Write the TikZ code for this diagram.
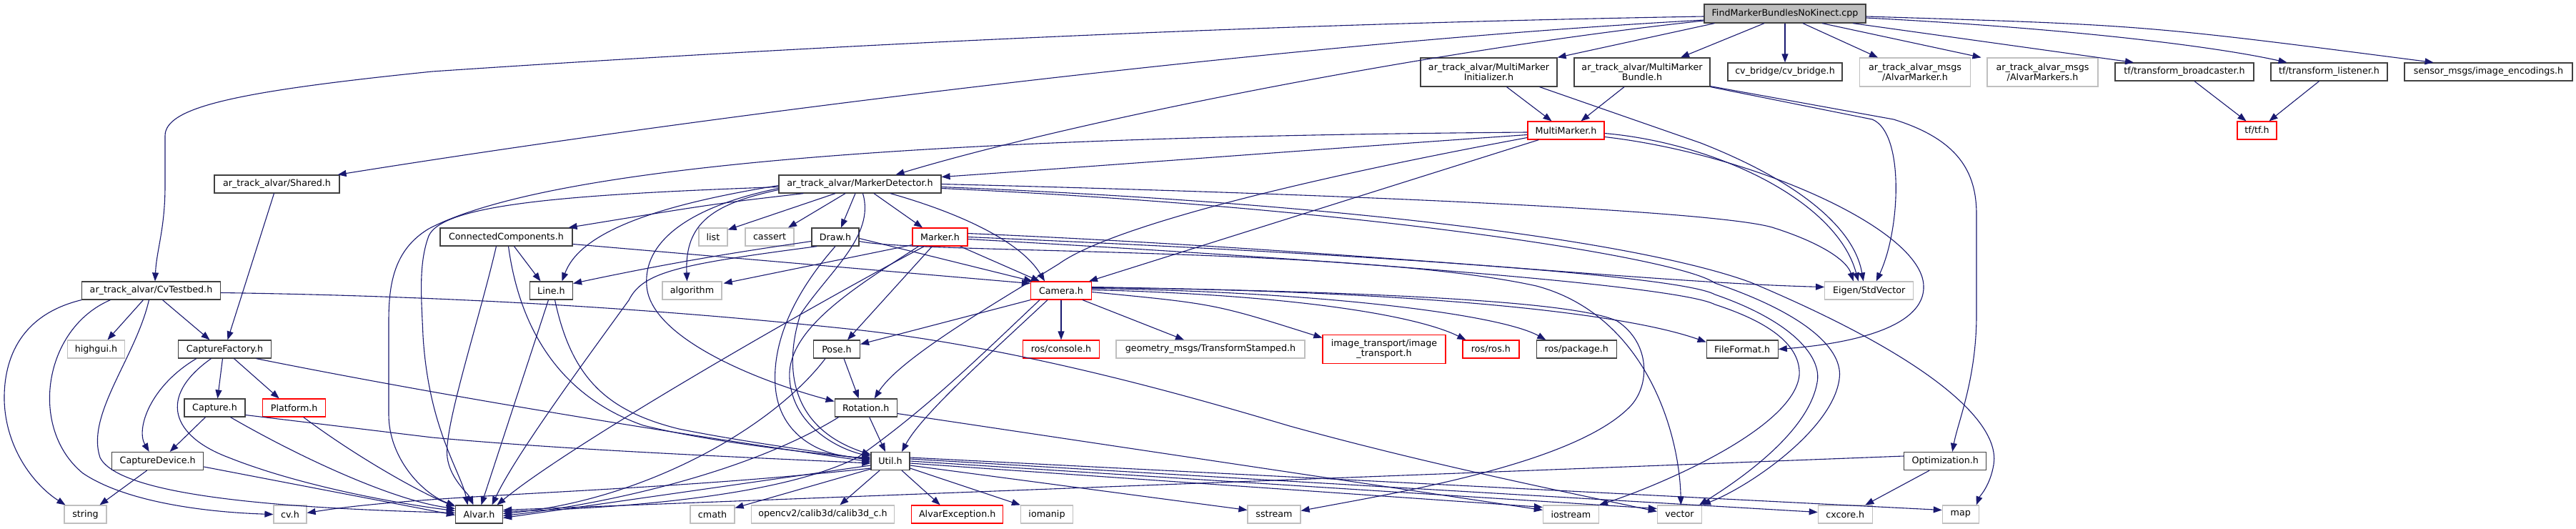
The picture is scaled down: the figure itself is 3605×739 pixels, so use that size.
\documentclass[tikz,border=0pt]{standalone}
\usepackage{fontspec}
\setmainfont{DejaVu Sans}
\usetikzlibrary{calc,arrows.meta}
\definecolor{edgec}{HTML}{191970}
\definecolor{boxc}{HTML}{404040}
\definecolor{grayc}{HTML}{BFBFBF}
\definecolor{redc}{HTML}{FF0000}
\definecolor{rootfill}{HTML}{BFBFBF}
\newcommand{\nodefont}{\fontsize{12.7pt}{14pt}\selectfont}
\tikzset{
  bx/.style={draw=boxc, fill=white, line width=1.2pt, minimum height=25pt, inner sep=0pt, font=\nodefont, align=center},
  gbx/.style={bx, draw=grayc},
  rbx/.style={bx, draw=redc},
  edg/.style={draw=edgec, line width=1.1pt, -{Triangle[length=12pt,width=9pt]}}
}
\begin{document}
\begin{tikzpicture}[x=1pt,y=-1pt]
\fill[white] (0,0) rectangle (3605,739);
\useasboundingbox (0,0) rectangle (3605,739);
% ---------------- nodes ----------------
\node[bx, fill=rootfill, minimum width=226pt, minimum height=26pt] (root) at (2498,19) {FindMarkerBundlesNoKinect.cpp};
\node[bx, minimum width=194pt] (CvT) at (211.5,406.5) {ar\_track\_alvar/CvTestbed.h};
\node[bx, minimum width=175pt] (Shared) at (387.5,257.5) {ar\_track\_alvar/Shared.h};
\node[bx, minimum width=227pt] (MD) at (1203.5,257.5) {ar\_track\_alvar/MarkerDetector.h};
\node[bx, minimum width=191pt, minimum height=40pt] (MMI) at (2083.5,101) {ar\_track\_alvar/MultiMarker\\Initializer.h};
\node[bx, minimum width=190pt, minimum height=40pt] (MMB) at (2298,101) {ar\_track\_alvar/MultiMarker\\Bundle.h};
\node[bx, minimum width=160pt] (cvb) at (2498,100.5) {cv\_bridge/cv\_bridge.h};
\node[gbx, minimum width=155pt, minimum height=40pt] (AM) at (2680,101) {ar\_track\_alvar\_msgs\\/AlvarMarker.h};
\node[gbx, minimum width=155pt, minimum height=40pt] (AMs) at (2858.5,101) {ar\_track\_alvar\_msgs\\/AlvarMarkers.h};
\node[bx, minimum width=194pt] (tfb) at (3057,100.5) {tf/transform\_broadcaster.h};
\node[bx, minimum width=163pt] (tfl) at (3259.5,100.5) {tf/transform\_listener.h};
\node[bx, minimum width=235pt] (sen) at (3482.5,100.5) {sensor\_msgs/image\_encodings.h};
\node[rbx, minimum width=107pt] (MM) at (2191.5,182.5) {MultiMarker.h};
\node[rbx, minimum width=55pt] (tf) at (3158.5,182.5) {tf/tf.h};
\node[bx, minimum width=185pt] (CC) at (708.5,331.5) {ConnectedComponents.h};
\node[gbx, minimum width=40pt] (list) at (998,331.5) {list};
\node[gbx, minimum width=68pt] (cassert) at (1077,331.5) {cassert};
\node[bx, minimum width=66pt] (Draw) at (1169,331.5) {Draw.h};
\node[rbx, minimum width=77pt] (Marker) at (1315.5,331.5) {Marker.h};
\node[bx, minimum width=60pt] (Line) at (771.5,406.5) {Line.h};
\node[gbx, minimum width=83pt] (algo) at (968.5,406.5) {algorithm};
\node[rbx, minimum width=85pt] (Camera) at (1485,406.5) {Camera.h};
\node[gbx, minimum width=124pt] (Eigen) at (2615.7,406.5) {Eigen/StdVector};
\node[gbx, minimum width=80pt] (highgui) at (134.5,488.5) {highgui.h};
\node[bx, minimum width=130pt] (CF) at (314.5,488.5) {CaptureFactory.h};
\node[bx, minimum width=65pt] (Pose) at (1171,488.5) {Pose.h};
\node[rbx, minimum width=107pt] (console) at (1485,488.5) {ros/console.h};
\node[gbx, minimum width=264pt] (geom) at (1694,488.5) {geometry\_msgs/TransformStamped.h};
\node[rbx, minimum width=172pt, minimum height=40pt] (imt) at (1937,488.5) {image\_transport/image\\\_transport.h};
\node[rbx, minimum width=79pt] (rosros) at (2086.4,488.5) {ros/ros.h};
\node[bx, minimum width=112pt] (package) at (2206.3,488.5) {ros/package.h};
\node[bx, minimum width=100pt] (FF) at (2438.2,488.5) {FileFormat.h};
\node[bx, minimum width=85pt] (Capture) at (300.5,570.5) {Capture.h};
\node[rbx, minimum width=88pt] (Platform) at (411.7,570.5) {Platform.h};
\node[bx, minimum width=87pt] (Rotation) at (1211.7,570.5) {Rotation.h};
\node[bx, minimum width=128pt] (CD) at (220.7,645) {CaptureDevice.h};
\node[bx, minimum width=54pt] (Util) at (1246,645) {Util.h};
\node[bx, minimum width=115pt] (Opt) at (2722.2,645) {Optimization.h};
\node[gbx, minimum width=59pt] (string) at (119.5,719.5) {string};
\node[gbx, minimum width=46pt] (cv) at (406,719.5) {cv.h};
\node[bx, minimum width=66pt] (Alvar) at (670.5,719.5) {Alvar.h};
\node[gbx, minimum width=62pt] (cmath) at (997,719.5) {cmath};
\node[gbx, minimum width=200pt] (calib) at (1151.4,719.5) {opencv2/calib3d/calib3d\_c.h};
\node[rbx, minimum width=128pt] (AE) at (1339.7,719.5) {AlvarException.h};
\node[gbx, minimum width=73pt] (iomanip) at (1465,719.5) {iomanip};
\node[gbx, minimum width=74pt] (sstream) at (1783,719.5) {sstream};
\node[gbx, minimum width=78pt] (iostream) at (2198.4,719.5) {iostream};
\node[gbx, minimum width=62pt] (vector) at (2350.4,719.5) {vector};
\node[gbx, minimum width=76pt] (cxcore) at (2582.3,719.5) {cxcore.h};
\node[gbx, minimum width=51pt] (map) at (2743.8,719.5) {map};
% ---------------- edges ----------------
% root
\draw[edg] ($(root.west)+(0,4)$) .. controls (1800,33) and (1200,60) .. (605,100) .. controls (330,128) and (231,150) .. (231,190) -- (231,260) .. controls (231,320) and (219,350) .. ($(CvT.north)+(5.5,0)$);
\draw[edg] ($(root.west)+(0,9)$) .. controls (1800,60) and (1000,160) .. ($(Shared.north east)+(-3,0)$);
\draw[edg] ($(root.west)+(0,10)$) .. controls (2000,70) and (1500,170) .. ($(MD.north)+(50,0)$);
\draw[edg] ($(root.south west)+(15,0)$) -- (MMI.north east);
\draw[edg] ($(root.south)+(-29,0)$) -- ($(MMB.north)+(54,0)$);
\draw[edg] (root.south) -- (cvb.north);
\draw[edg] ($(root.south)+(25,0)$) -- ($(AM.north)+(-52,0)$);
\draw[edg] ($(root.south)+(52,0)$) -- ($(AMs.north)+(-86,0)$);
\draw[edg] ($(root.south)+(95,0)$) -- ($(tfb.north)+(-71,0)$);
\draw[edg] ($(root.east)+(0,6)$) .. controls (2900,40) and (3100,65) .. ($(tfl.north)+(-59,0)$);
\draw[edg] ($(root.east)+(0,4)$) .. controls (3000,35) .. ($(sen.north)+(-77,0)$);
% multimarker initializer / bundle
\draw[edg] ($(MMI.south)+(25,0)$) -- ($(MM.north)+(-20,0)$);
\draw[edg] ($(MMB.south)+(-25,0)$) -- ($(MM.north)+(21,0)$);
\draw[edg] ($(MMI.south)+(71,0)$) -- (2380,200) .. controls (2520,255) and (2595,320) .. ($(Eigen.north)+(-8,0)$);
\draw[edg] (MMB.south east) -- (2620,167) .. controls (2665,185) and (2660,320) .. ($(Eigen.north)+(10,0)$);
\draw[edg] ($(MMB.south east)+(0,-1)$) -- (2650,167) .. controls (2740,195) and (2766,240) .. (2766,300) -- (2766,440) .. controls (2766,530) and (2740,590) .. ($(Opt.north)+(10,0)$);
% MultiMarker
\draw[edg] ($(MM.east)+(0,4)$) .. controls (2400,200) and (2570,280) .. ($(Eigen.north)+(-15,0)$);
\draw[edg] ($(MM.east)+(0,9)$) .. controls (2450,215) and (2690,320) .. (2692,400) .. controls (2694,455) and (2600,480) .. (FF.east);
\draw[edg] ($(MM.west)+(0,6)$) .. controls (1800,212) and (1500,235) .. ($(MD.east)+(0,-10)$);
\draw[edg] ($(MM.west)+(0,2.5)$) .. controls (1500,190) and (800,215) .. (600,320) .. controls (550,350) and (544,400) .. (544,450) -- (544,580) .. controls (544,640) and (590,690) .. ($(Alvar.west)+(0,-12)$);
\draw[edg] ($(MM.west)+(0,10)$) .. controls (1800,255) and (1550,320) .. (1482,369) .. controls (1400,420) and (1260,500) .. ($(Rotation.north)+(12,0)$);
\draw[edg] ($(MM.south west)+(16,0)$) -- ($(Camera.north)+(39,0)$);
% tf
\draw[edg] ($(tfb.south)+(14,0)$) -- ($(tf.north)+(-15,0)$);
\draw[edg] ($(tfl.south)+(-14,0)$) -- ($(tf.north)+(17,0)$);
% Shared
\draw[edg] ($(Shared.south)+(-4,0)$) -- ($(CF.north)+(4,0)$);
% MarkerDetector
\draw[edg] ($(MD.south west)+(35,0)$) .. controls (1000,285) .. ($(CC.north east)+(-6,0)$);
\draw[edg] ($(MD.south)+(-34.5,0)$) -- ($(list.north east)+(0,3)$);
\draw[edg] ($(MD.south)+(-20.5,0)$) -- ($(cassert.north)+(26,0)$);
\draw[edg] ($(MD.south)+(-6.5,0)$) -- ($(Draw.north)+(8,0)$);
\draw[edg] ($(MD.south)+(19.5,0)$) -- ($(Marker.north)+(-24.5,0)$);
\draw[edg] ($(MD.south)+(42.5,0)$) .. controls (1350,300) and (1430,340) .. ($(Camera.north)+(-23,0)$);
\draw[edg] ($(MD.west)+(0,2)$) .. controls (900,290) and (810,330) .. ($(Line.north)+(15,0)$);
\draw[edg] ($(MD.west)+(0,4)$) .. controls (800,272) and (620,285) .. (600,330) .. controls (585,370) and (590,420) .. (592,470) .. controls (600,600) and (645,660) .. ($(Alvar.north)+(-16,0)$);
\draw[edg] ($(MD.west)+(0,6)$) .. controls (960,290) and (900,340) .. (905,400) .. controls (910,470) and (1050,530) .. ($(Rotation.west)+(0,-9)$);
\draw[edg] ($(MD.west)+(0,8)$) .. controls (1000,285) and (958,310) .. ($(algo.north)+(-7,0)$);
\draw[edg] ($(MD.south)+(4,0)$) .. controls (1225,330) and (1160,380) .. (1120,440) .. controls (1095,520) and (1110,600) .. ($(Util.west)+(0,-9)$);
\draw[edg] (MD.east) .. controls (1900,272) and (2400,295) .. (2480,318) .. controls (2550,340) and (2585,365) .. ($(Eigen.north)+(-22,0)$);
\draw[edg] ($(MD.east)+(0,4)$) .. controls (1900,285) and (2300,340) .. (2450,395) .. controls (2700,500) and (2800,590) .. (2790,650) .. controls (2785,680) and (2770,695) .. ($(map.north)+(22,0)$);
\draw[edg] ($(MD.east)+(0,6)$) .. controls (1900,290) and (2350,360) .. (2400,396) .. controls (2530,440) and (2580,490) .. (2574,530) .. controls (2565,600) and (2450,680) .. (vector.north east);
% Marker
\draw[edg] ($(Marker.east)+(0,-5)$) .. controls (1900,350) and (2300,395) .. ($(Eigen.west)+(0,-5)$);
\draw[edg] (Marker.east) .. controls (1900,355) and (2350,385) .. (2400,412) .. controls (2510,450) and (2550,500) .. (2543,535) .. controls (2530,610) and (2420,680) .. ($(vector.north east)+(-4,0)$);
\draw[edg] ($(Marker.east)+(0,3)$) .. controls (1900,365) and (2350,400) .. (2400,426) .. controls (2490,455) and (2520,490) .. (2518,525) .. controls (2510,600) and (2320,680) .. (iostream.north east);
\draw[edg] ($(Marker.south west)+(0,-2)$) -- ($(algo.north east)+(2,3)$);
\draw[edg] ($(Marker.south)+(-22,0)$) .. controls (1150,420) and (800,620) .. ($(Alvar.north)+(25,0)$);
\draw[edg] ($(Marker.south)+(-11,0)$) -- ($(Pose.north)+(15,0)$);
\draw[edg] ($(Marker.south)+(-30,0)$) .. controls (1200,400) and (1100,460) .. (1105,530) .. controls (1110,600) and (1180,630) .. ($(Util.west)+(0,-7)$);
\draw[edg] ($(Marker.south east)+(-11,0)$) -- ($(Camera.north)+(-30,0)$);
% Draw
\draw[edg] ($(Draw.west)+(0,6)$) .. controls (1050,350) and (950,365) .. ($(Line.east)+(0,-10)$);
\draw[edg] ($(Draw.south west)+(8,0)$) .. controls (950,370) and (900,380) .. (880,420) .. controls (800,530) and (720,640) .. ($(Alvar.north)+(18,0)$);
\draw[edg] (Draw.south) .. controls (1120,400) and (1080,470) .. (1085,540) .. controls (1090,610) and (1150,640) .. ($(Util.west)+(0,-5)$);
\draw[edg] ($(Draw.east)+(0,2)$) -- ($(Camera.north west)+(3,0)$);
\draw[edg] ($(Draw.east)+(0,6)$) .. controls (1280,355) and (1900,345) .. (2150,400) .. controls (2300,440) and (2350,600) .. ($(vector.north)+(2,0)$);
% Camera
\draw[edg] (Camera.south) -- (console.north);
\draw[edg] ($(Camera.south)+(30,0)$) -- ($(geom.north)+(-37,0)$);
\draw[edg] ($(Camera.east)+(0,2)$) .. controls (1700,425) .. ($(imt.west)+(0,-16)$);
\draw[edg] ($(Camera.east)+(0,-1)$) .. controls (1800,412) and (1980,440) .. ($(rosros.north)+(-35,0)$);
\draw[edg] ($(Camera.east)+(0,-3)$) .. controls (1850,408) and (2100,440) .. ($(package.north)+(-43,0)$);
\draw[edg] ($(Camera.east)+(0,-4)$) .. controls (1900,405) and (2250,430) .. ($(FF.west)+(0,-10)$);
\draw[edg] ($(Camera.east)+(0,-5)$) .. controls (1900,408) and (2200,420) .. (2263,449) .. controls (2310,480) and (2310,540) .. (2280,570) .. controls (2200,650) and (1950,690) .. ($(sstream.east)+(0,-5)$);
\draw[edg] (Camera.south west) -- ($(Pose.east)+(0,-7)$);
\draw[edg] ($(Camera.south)+(-19,0)$) .. controls (1380,500) and (1290,580) .. ($(Util.north)+(16,0)$);
\draw[edg] ($(Camera.south)+(-30,0)$) .. controls (1380,490) and (1300,570) .. (1200,640) .. controls (1100,690) and (900,710) .. ($(Alvar.east)+(0,-4)$);
% ConnectedComponents
\draw[edg] ($(CC.south)+(11,0)$) -- ($(Line.north)+(-15,0)$);
\draw[edg] ($(CC.south)+(-14,0)$) .. controls (670,450) and (620,600) .. (626,640) .. controls (630,670) and (655,690) .. ($(Alvar.north)+(-8,0)$);
\draw[edg] ($(CC.south)+(3,0)$) .. controls (730,480) and (800,560) .. (900,595) .. controls (1000,620) and (1150,635) .. ($(Util.west)+(0,-3)$);
\draw[edg] ($(CC.east)+(0,10)$) -- ($(Camera.west)+(0,-10)$);
% Line
\draw[edg] ($(Line.south)+(-4,0)$) -- ($(Alvar.north)+(3,0)$);
\draw[edg] ($(Line.south)+(5,0)$) .. controls (800,530) and (850,575) .. (950,600) .. controls (1050,620) and (1150,632) .. ($(Util.west)+(0,-1)$);
% Pose
\draw[edg] ($(Pose.south)+(10,0)$) -- ($(Rotation.north)+(-10,0)$);
\draw[edg] ($(Pose.south)+(-16,0)$) .. controls (1080,600) and (900,700) .. ($(Alvar.east)+(0,-1)$);
% Rotation
\draw[edg] ($(Rotation.south)+(5,0)$) -- ($(Util.north)+(-7,0)$);
\draw[edg] ($(Rotation.south west)+(6,0)$) .. controls (1050,660) and (850,705) .. ($(Alvar.east)+(0,2)$);
\draw[edg] ($(Rotation.east)+(0,8)$) -- ($(iostream.west)+(0,-6)$);
% Util
\draw[edg] ($(Util.west)+(0,6)$) -- ($(Alvar.east)+(0,5)$);
\draw[edg] ($(Util.west)+(0,10)$) .. controls (900,690) and (600,690) .. ($(cv.east)+(0,-2)$);
\draw[edg] ($(Util.south west)+(0,-2)$) -- ($(cmath.east)+(0,-9)$);
\draw[edg] ($(Util.south)+(-15,0)$) -- ($(calib.north)+(24,0)$);
\draw[edg] ($(Util.south)+(16,0)$) -- ($(AE.north)+(-24,0)$);
\draw[edg] ($(Util.east)+(0,10)$) -- (iomanip.north west);
\draw[edg] ($(Util.east)+(0,6)$) -- ($(sstream.west)+(0,-6)$);
\draw[edg] ($(Util.east)+(0,3)$) -- ($(iostream.west)+(0,-10)$);
\draw[edg] (Util.east) -- ($(vector.west)+(0,-8)$);
\draw[edg] ($(Util.east)+(0,-3)$) -- ($(cxcore.west)+(0,-3)$);
\draw[edg] ($(Util.east)+(0,-5)$) -- ($(map.west)+(0,-6)$);
% Optimization
\draw[edg] ($(Opt.south)+(-22,0)$) -- ($(cxcore.north)+(28,0)$);
\draw[edg] ($(Opt.west)+(0,-7)$) -- ($(Alvar.east)+(0,-6)$);
% CvTestbed
\draw[edg] (CvT.south west) .. controls (30,440) and (5,500) .. (6,560) .. controls (8,630) and (50,680) .. ($(string.north)+(-28,0)$);
\draw[edg] ($(CvT.south)+(-57,0)$) .. controls (60,460) and (40,600) .. (116,662) .. controls (180,705) and (300,717) .. (cv.west);
\draw[edg] ($(CvT.south)+(-11,0)$) -- ($(highgui.north)+(16,0)$);
\draw[edg] ($(CvT.south)+(16,0)$) -- ($(CF.north)+(-21,0)$);
\draw[edg] ($(CvT.south)+(-3,0)$) .. controls (190,500) and (120,580) .. (140,640) .. controls (170,700) and (450,712) .. ($(Alvar.west)+(0,-2)$);
\draw[edg] ($(CvT.east)+(0,3)$) .. controls (700,415) and (1000,440) .. (1205,462) .. controls (1450,490) and (1700,565) .. (1805,596) .. controls (2000,650) and (2200,690) .. ($(vector.west)+(0,-4)$);
% CaptureFactory
\draw[edg] ($(CF.south west)+(26,0)$) .. controls (210,540) and (190,600) .. ($(CD.north)+(-12,0)$);
\draw[edg] ($(CF.south)+(-3,0)$) -- ($(Capture.north)+(4,0)$);
\draw[edg] ($(CF.south)+(13,0)$) -- ($(Platform.north)+(-21,0)$);
\draw[edg] ($(CF.south)+(-19,0)$) .. controls (220,555) and (240,610) .. (320,640) .. controls (420,680) and (560,705) .. ($(Alvar.west)+(0,-5)$);
\draw[edg] ($(CF.south)+(44,0)$) .. controls (600,550) and (900,600) .. ($(Util.west)+(0,1)$);
% Capture
\draw[edg] ($(Capture.south)+(-13,0)$) -- ($(CD.north)+(17,0)$);
\draw[edg] ($(Capture.south)+(22,0)$) .. controls (420,640) and (550,700) .. ($(Alvar.west)+(0,-8)$);
\draw[edg] ($(Capture.east)+(0,10)$) -- (605,612) .. controls (800,630) and (1050,640) .. ($(Util.west)+(0,3)$);
% Platform
\draw[edg] ($(Platform.south)+(13,0)$) .. controls (500,640) and (590,690) .. ($(Alvar.west)+(0,-11)$);
% CaptureDevice
\draw[edg] ($(CD.south)+(-15,0)$) -- ($(string.north)+(20,0)$);
\draw[edg] ($(CD.east)+(0,8)$) -- ($(Alvar.west)+(0,1)$);
\end{tikzpicture}
\end{document}
